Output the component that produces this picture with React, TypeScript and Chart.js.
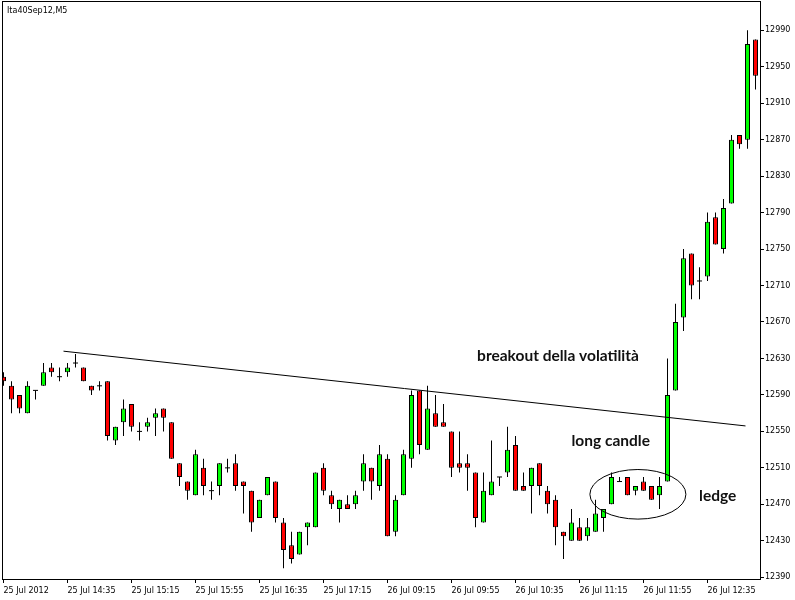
import React, { useEffect, useRef } from "react";
import { Chart, registerables } from "chart.js";

Chart.register(...registerables);

// OHLC values of the 5-minute candles (Ita40Sep12, M5)
const opens = [
  12610, 12600, 12590, 12570, 12595, 12600, 12620, 12610, 12615, 12625,
  12620, 12600, 12600, 12605, 12540, 12560, 12580, 12550, 12555, 12565,
  12575, 12560, 12515, 12495, 12480, 12510, 12485, 12490, 12510, 12515,
  12495, 12485, 12455, 12480, 12495, 12450, 12425, 12415, 12445, 12445,
  12510, 12480, 12465, 12470, 12470, 12495, 12510, 12490, 12520, 12440,
  12480, 12520, 12595, 12530, 12570, 12560, 12550, 12515, 12515, 12505,
  12450, 12480, 12500, 12505, 12535, 12490, 12490, 12515, 12485, 12475,
  12440, 12430, 12445, 12435, 12440, 12455, 12470, 12495, 12500, 12485,
  12495, 12490, 12480, 12495, 12595, 12675, 12745, 12715, 12720, 12785,
  12750, 12800, 12875, 12870, 12980,
];
const highs = [
  12615, 12605, 12590, 12605, 12595, 12625, 12625, 12620, 12625, 12635,
  12620, 12600, 12605, 12605, 12555, 12585, 12580, 12560, 12565, 12575,
  12575, 12560, 12515, 12495, 12530, 12520, 12495, 12515, 12520, 12525,
  12495, 12485, 12475, 12500, 12495, 12455, 12440, 12440, 12450, 12505,
  12515, 12485, 12475, 12480, 12485, 12525, 12510, 12535, 12525, 12480,
  12530, 12595, 12595, 12600, 12590, 12580, 12550, 12550, 12525, 12505,
  12505, 12540, 12500, 12555, 12545, 12505, 12510, 12515, 12490, 12480,
  12440, 12465, 12455, 12455, 12475, 12465, 12505, 12500, 12500, 12490,
  12500, 12490, 12500, 12630, 12690, 12750, 12745, 12730, 12790, 12790,
  12805, 12875, 12875, 12990, 12980,
];
const lows = [
  12600, 12570, 12570, 12570, 12585, 12600, 12610, 12605, 12610, 12620,
  12605, 12590, 12595, 12540, 12535, 12545, 12550, 12540, 12550, 12545,
  12550, 12520, 12490, 12475, 12480, 12480, 12475, 12480, 12505, 12485,
  12460, 12440, 12455, 12480, 12450, 12400, 12405, 12415, 12425, 12445,
  12480, 12465, 12450, 12465, 12465, 12485, 12475, 12485, 12435, 12435,
  12480, 12510, 12525, 12530, 12555, 12555, 12500, 12505, 12485, 12445,
  12450, 12480, 12490, 12500, 12485, 12485, 12460, 12480, 12460, 12425,
  12410, 12430, 12430, 12430, 12440, 12440, 12470, 12495, 12480, 12480,
  12485, 12475, 12465, 12495, 12595, 12660, 12695, 12695, 12715, 12755,
  12745, 12800, 12860, 12860, 12925,
];
const closes = [
  12605, 12585, 12575, 12600, 12595, 12615, 12615, 12610, 12620, 12625,
  12605, 12595, 12600, 12545, 12555, 12575, 12555, 12550, 12560, 12570,
  12565, 12520, 12500, 12485, 12525, 12490, 12485, 12515, 12510, 12490,
  12490, 12450, 12475, 12500, 12455, 12420, 12410, 12440, 12450, 12505,
  12485, 12470, 12475, 12465, 12480, 12515, 12495, 12525, 12435, 12475,
  12525, 12590, 12535, 12575, 12555, 12555, 12510, 12510, 12510, 12455,
  12485, 12495, 12500, 12530, 12485, 12485, 12510, 12490, 12470, 12445,
  12435, 12450, 12430, 12445, 12460, 12465, 12500, 12495, 12480, 12490,
  12485, 12475, 12490, 12590, 12670, 12740, 12710, 12715, 12780, 12755,
  12795, 12870, 12865, 12975, 12940,
];

const tickIdx = [0, 8, 16, 24, 32, 40, 48, 56, 64, 72, 80, 88];
const tickLabels = [
  "25 Jul 2012", "25 Jul 14:35", "25 Jul 15:15", "25 Jul 15:55",
  "25 Jul 16:35", "25 Jul 17:15", "26 Jul 09:15", "26 Jul 09:55",
  "26 Jul 10:35", "26 Jul 11:15", "26 Jul 11:55", "26 Jul 12:35",
];
const priceTicks = [
  12390, 12430, 12470, 12510, 12550, 12590, 12630, 12670,
  12710, 12750, 12790, 12830, 12870, 12910, 12950, 12990,
];

// Hand-drawn annotations (in candle index / price units)
const trendX = [7.5, 92.75];
const trendY = [12638, 12556];
const noteTexts = ["breakout della volatilità", "long candle", "ledge"];
const noteX = [59.2, 71.0, 86.95];
const noteY = [12633, 12540, 12479];
const ellipseCenter = [79.3, 12481];
const ellipseRadius = [6.0, 27.2];

const TITLE = "Ita40Sep12,M5";

export default function App() {
  const ref = useRef<HTMLCanvasElement | null>(null);

  useEffect(() => {
    if (!ref.current) return;
    const idx = opens.map((_, i) => i);
    const wickData = idx.map((i) => ({ x: i, y: [lows[i], highs[i]] }));
    const bodyIdx = idx.filter((i) => opens[i] !== closes[i]);
    const bodyData = bodyIdx.map((i) => ({ x: i, y: [opens[i], closes[i]] }));
    const bodyColors = bodyIdx.map((i) => (closes[i] > opens[i] ? "#00ff00" : "#ff0000"));
    const dojiData = idx.filter((i) => opens[i] === closes[i]).map((i) => ({ x: i, y: opens[i] }));
    const trendData = trendX.map((x, k) => ({ x, y: trendY[k] }));

    const overlay = {
      id: "overlay",
      afterDatasetsDraw(chart: any) {
        const { ctx, chartArea, scales } = chart;
        const xs = scales.x;
        const ys = scales.y;
        ctx.save();
        // ellipse
        const cx = xs.getPixelForValue(ellipseCenter[0]);
        const cy = ys.getPixelForValue(ellipseCenter[1]);
        const rx = Math.abs(xs.getPixelForValue(ellipseCenter[0] + ellipseRadius[0]) - cx);
        const ry = Math.abs(ys.getPixelForValue(ellipseCenter[1] + ellipseRadius[1]) - cy);
        ctx.beginPath();
        ctx.ellipse(cx, cy, rx, ry, 0, 0, Math.PI * 2);
        ctx.strokeStyle = "#000";
        ctx.lineWidth = 1;
        ctx.stroke();
        // notes
        ctx.fillStyle = "#111";
        ctx.font = "bold 15.5px Lato";
        ctx.textAlign = "left";
        ctx.textBaseline = "middle";
        noteTexts.forEach((t, k) => {
          ctx.fillText(t, xs.getPixelForValue(noteX[k]), ys.getPixelForValue(noteY[k]));
        });
        // title
        ctx.font = "8px 'DejaVu Sans'";
        ctx.fillStyle = "#000";
        ctx.fillText(TITLE, chartArea.left + 5, chartArea.top + 10);
        // frame
        ctx.strokeStyle = "#000";
        ctx.lineWidth = 1;
        ctx.strokeRect(
          chartArea.left + 0.5,
          chartArea.top + 0.5,
          chartArea.right - chartArea.left,
          chartArea.bottom - chartArea.top
        );
        ctx.restore();
      },
    };

    Chart.defaults.font.family = "'DejaVu Sans'";
    Chart.defaults.font.size = 8;
    Chart.defaults.color = "#000";

    const chart = new Chart(ref.current, {
      type: "bar",
      data: {
        datasets: [
          {
            type: "line",
            data: trendData,
            borderColor: "#000",
            borderWidth: 1,
            pointRadius: 0,
            order: 0,
          } as any,
          {
            type: "line",
            data: dojiData,
            showLine: false,
            pointStyle: "line",
            pointRadius: 2.5,
            pointBorderWidth: 1,
            pointBorderColor: "#000",
            borderColor: "#000",
            order: 1,
          } as any,
          {
            type: "bar",
            data: bodyData,
            backgroundColor: bodyColors,
            borderColor: "#000",
            borderWidth: 1,
            borderSkipped: false,
            barThickness: 5,
            grouped: false,
            inflateAmount: 0,
            order: 2,
          } as any,
          {
            type: "bar",
            data: wickData,
            backgroundColor: "#000",
            borderWidth: 0,
            barThickness: 1,
            grouped: false,
            inflateAmount: 0,
            order: 3,
          } as any,
        ],
      },
      options: {
        responsive: false,
        animation: false,
        devicePixelRatio: 1,
        layout: { autoPadding: false, padding: { left: 2, top: 1, right: 0, bottom: 0 } },
        plugins: { legend: { display: false }, tooltip: { enabled: false } },
        scales: {
          x: {
            type: "linear",
            min: -0.1875,
            max: 94.5625,
            offset: false,
            border: { display: false },
            grid: { display: true, drawOnChartArea: false, drawTicks: true, tickLength: 4, color: "#000", offset: false },
            ticks: {
              autoSkip: false,
              maxRotation: 0,
              minRotation: 0,
              align: "start",
              padding: 3,
              color: "#000",
              font: { family: "'DejaVu Sans'", size: 8 },
              callback: (_v: any, i: number) => tickLabels[i],
            },
            afterBuildTicks: (axis: any) => {
              axis.ticks = tickIdx.map((v) => ({ value: v }));
            },
            afterFit: (axis: any) => {
              axis.height = 21;
              axis.paddingLeft = 0;
              axis.paddingRight = 0;
            },
          },
          y: {
            type: "linear",
            position: "right",
            min: 12388.1,
            max: 13022.1,
            border: { display: false },
            grid: { display: true, drawOnChartArea: false, drawTicks: true, tickLength: 4, color: "#000" },
            ticks: {
              padding: 1,
              color: "#000",
              font: { family: "'DejaVu Sans'", size: 8 },
              callback: (v: any) => String(v),
            },
            afterBuildTicks: (axis: any) => {
              axis.ticks = priceTicks.map((v) => ({ value: v }));
            },
            afterFit: (axis: any) => {
              axis.width = 35;
              axis.paddingTop = 0;
              axis.paddingBottom = 0;
            },
          },
        },
      } as any,
      plugins: [overlay],
    });
    return () => chart.destroy();
  }, []);

  return (
    <div style={{ position: "absolute", left: 0, top: 0, width: 795, height: 600, background: "#fff" }}>
      <canvas ref={ref} width={795} height={600} style={{ display: "block" }} />
    </div>
  );
}
